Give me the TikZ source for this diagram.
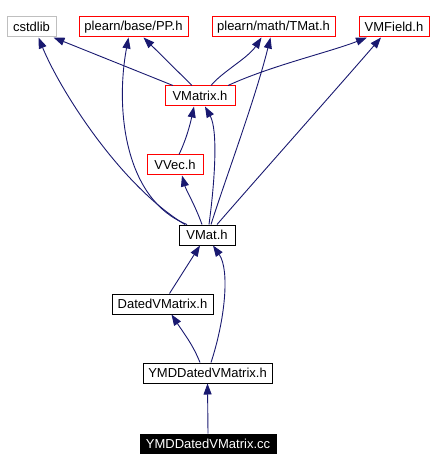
\documentclass[tikz,border=0pt]{standalone}
\usepackage{fontspec}
\setmainfont{Liberation Sans}
\usetikzlibrary{arrows.meta}
\definecolor{edgeblue}{HTML}{191970}
\definecolor{boxgray}{HTML}{BFBFBF}
\begin{document}
\begin{tikzpicture}[x=1pt,y=-1pt,
  box/.style={draw=black,line width=1pt,rectangle,inner sep=0pt,minimum height=20pt,font=\fontsize{13}{15}\selectfont,fill=white},
  redbox/.style={box,draw=red},
  graybox/.style={box,draw=boxgray},
  curbox/.style={box,fill=black,draw=black,text=white},
  edge/.style={draw=edgeblue,line width=0.9pt,-{Triangle[length=11pt,width=8pt]}}]
\useasboundingbox (0,0) rectangle (436,470);
\node[graybox,minimum width=49pt] (cstd) at (31.5,27) {cstdlib};
\node[redbox,minimum width=109pt] (pp) at (133.5,27) {plearn/base/PP.h};
\node[redbox,minimum width=123pt] (tmat) at (273.5,27) {plearn/math/TMat.h};
\node[redbox,minimum width=70pt] (vmf) at (394,27) {VMField.h};
\node[redbox,minimum width=70pt] (vmx) at (200,96) {VMatrix.h};
\node[redbox,minimum width=56pt] (vvec) at (175,165) {VVec.h};
\node[box,minimum width=56pt] (vmat) at (207,235) {VMat.h};
\node[box,minimum width=101pt] (dated) at (162.5,304) {DatedVMatrix.h};
\node[box,minimum width=129pt] (ymdh) at (207.5,373) {YMDDatedVMatrix.h};
\node[curbox,minimum width=136pt,minimum height=19pt] (ymdcc) at (208,443.5) {YMDDatedVMatrix.cc};

% VMatrix.h dependencies
\draw[edge] ([xshift=-27pt]vmx.north) -- ([xshift=22pt]cstd.south);
\draw[edge] ([xshift=-8pt]vmx.north) -- ([xshift=10pt]pp.south);
\draw[edge] ([xshift=11pt]vmx.north) .. controls (222,72) and (248,58) .. ([xshift=-12pt]tmat.south);
\draw[edge] ([xshift=28pt]vmx.north) .. controls (270,66) and (330,52) .. ([xshift=-27pt]vmf.south);
% VVec.h
\draw[edge] ([xshift=4pt]vvec.north) .. controls (186,140) and (190,125) .. ([xshift=-6pt]vmx.south);
% VMat.h
\draw[edge] ([xshift=-5pt]vmat.north) .. controls (195,205) and (186,190) .. ([xshift=7pt]vvec.south);
\draw[edge] ([xshift=2pt]vmat.north) .. controls (215,180) and (218,130) .. ([xshift=5pt]vmx.south);
\draw[edge] ([xshift=-22pt]vmat.north) .. controls (120,185) and (60,90) .. ([xshift=7pt]cstd.south);
\draw[edge] ([xshift=-20pt]vmat.north) .. controls (125,200) and (115,110) .. ([xshift=-5pt]pp.south);
\draw[edge] ([xshift=4pt]vmat.north) .. controls (225,180) and (255,100) .. ([xshift=-3pt]tmat.south);
\draw[edge] ([xshift=10pt]vmat.north) .. controls (260,175) and (340,85) .. ([xshift=-13pt]vmf.south);
% DatedVMatrix.h
\draw[edge] ([xshift=7pt]dated.north) -- ([xshift=-7pt]vmat.south);
% YMDDatedVMatrix.h
\draw[edge] ([xshift=3.5pt]ymdh.north) .. controls (225,320) and (230,270) .. ([xshift=6pt]vmat.south);
\draw[edge] ([xshift=-7.5pt]ymdh.north) .. controls (193,345) and (185,335) .. ([xshift=9pt]dated.south);
% YMDDatedVMatrix.cc
\draw[edge] (ymdcc.north) -- (ymdh.south);
\end{tikzpicture}
\end{document}
